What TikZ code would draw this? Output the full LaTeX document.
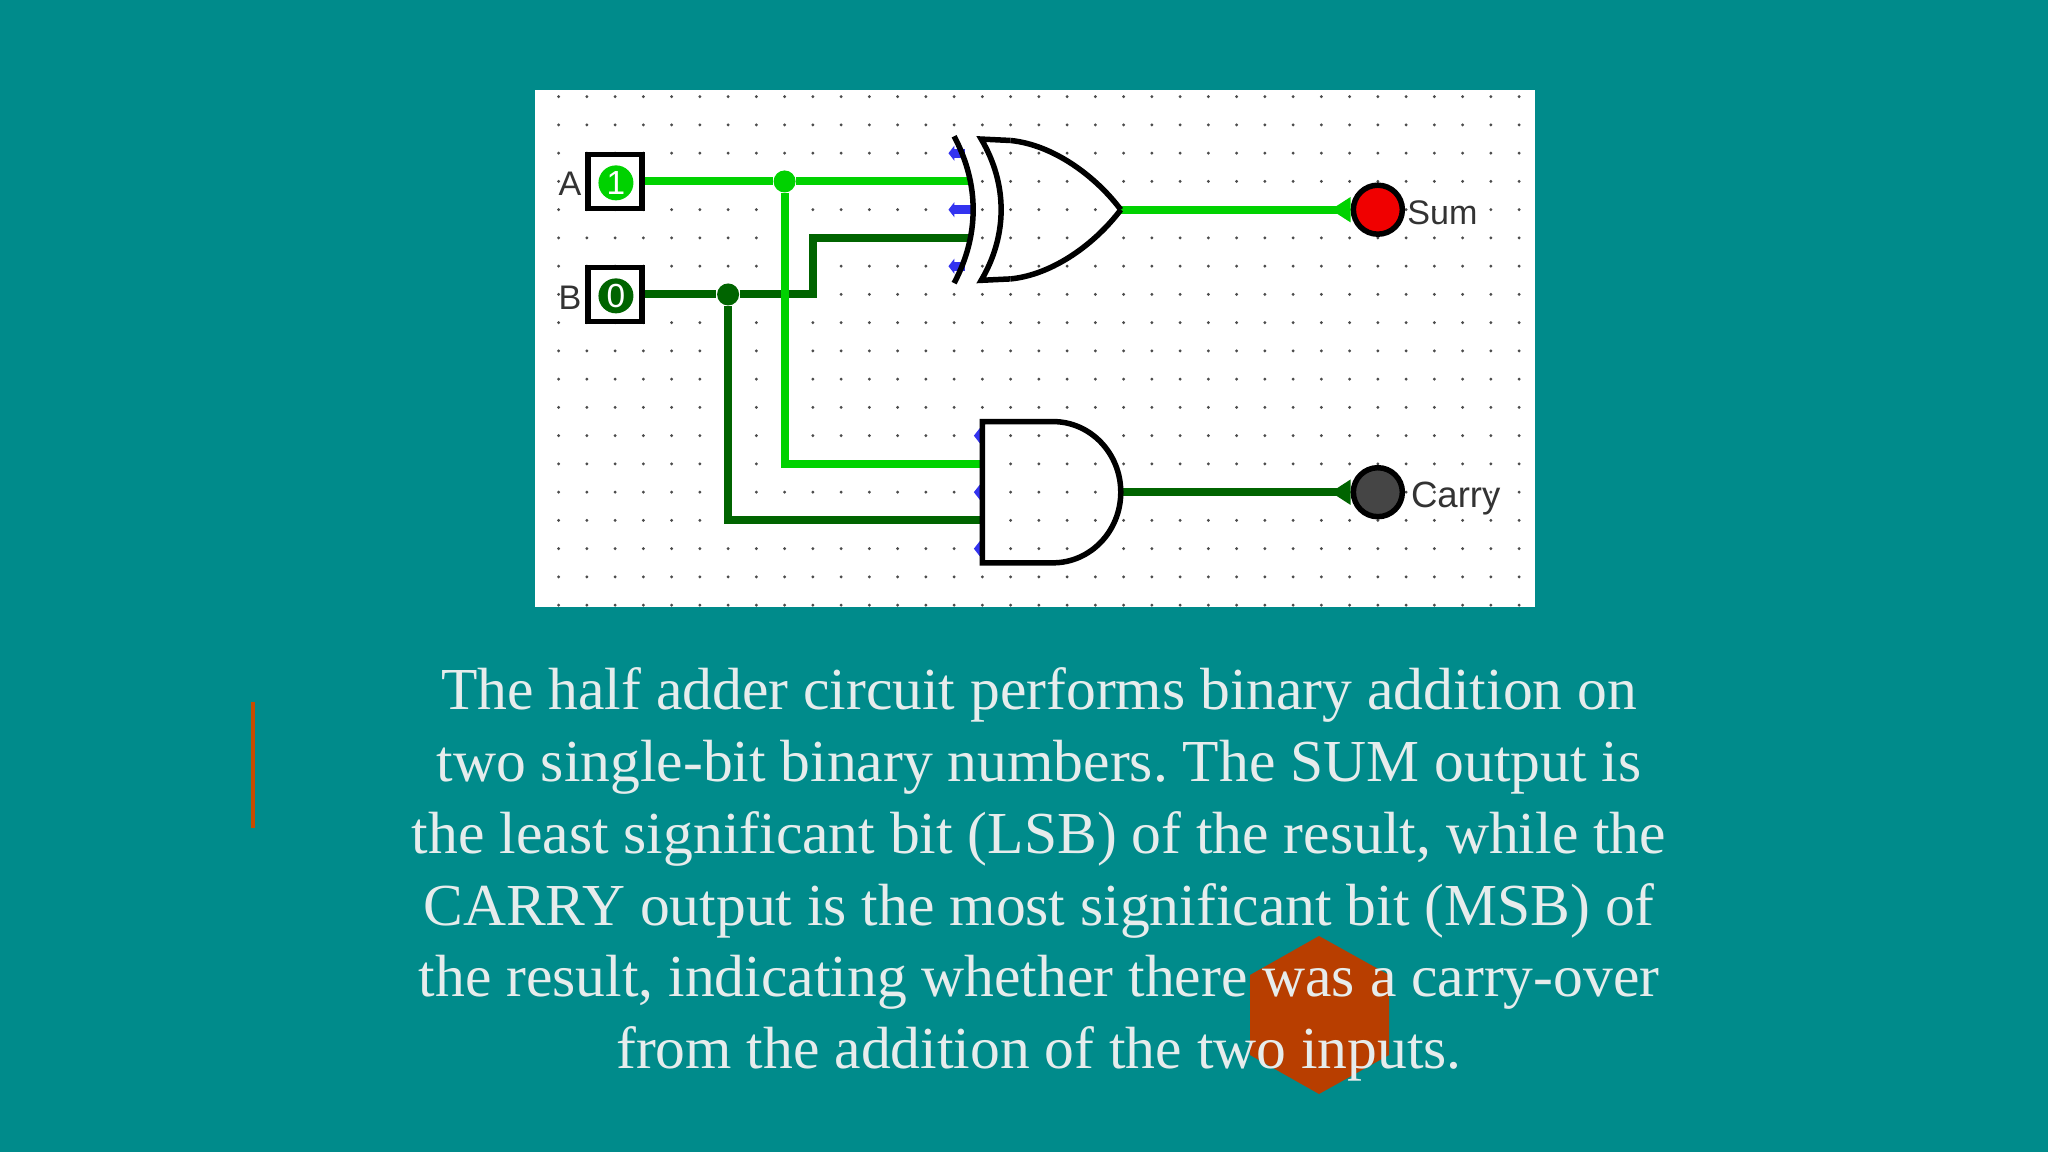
\documentclass[tikz,border=0pt]{standalone}
\usepackage{fontspec}
\setmainfont{Liberation Serif}
\newfontfamily\circuitfont{Liberation Sans}
\usetikzlibrary{arrows.meta}
\definecolor{slidebg}{HTML}{008B8B}
\definecolor{wireon}{HTML}{00D200}
\definecolor{wireoff}{HTML}{006400}
\definecolor{pinblue}{HTML}{3333F0}
\definecolor{accent}{HTML}{B83E00}
\definecolor{bodytext}{HTML}{E6ECEC}
\tikzset{
	griddot/.style={fill=black!70},
	gate/.style={draw=black,line width=.055cm,line join=miter},
	pinmark/.style={draw=pinblue,line width=.09cm,{Triangle[length=.06cm,width=.15cm]}-},
	wire/.style={line width=.08cm,line join=miter},
	pinbox/.style={draw=black,fill=white,line width=.055cm,minimum size=.54cm,inner sep=0pt},
	pinvalue/.style={circle,minimum size=.35cm,inner sep=0pt,text=white,font=\circuitfont\fontsize{9.5}{10}\selectfont},
	junction/.style={circle,minimum size=.22cm,inner sep=0pt},
	led/.style={circle,draw=black,line width=.055cm,minimum size=.49cm,inner sep=0pt},
	wirelabel/.style={inner sep=0pt,text=black!80,font=\circuitfont\fontsize{9.7}{11}\selectfont},
}
\begin{document}
\begin{tikzpicture}[x=1cm,y=-1cm]

	\useasboundingbox (0,0) rectangle (20.48,11.52);
	\fill[slidebg] (0,0) rectangle (20.48,11.52);
	\fill[white] (5.35,.9) rectangle (15.35,6.07);

	\begin{scope}[shift={(5.586,.967)},x=.2825cm,y=-.2825cm]

		\foreach \i in {0,...,34}
			\foreach \j in {0,...,18}
				\fill[griddot] (\i,\j) circle (.016cm);

		\foreach \j in {2,6}
			\draw[pinmark] (13.8,\j) -- (14.4,\j);
		\draw[pinmark] (13.8,4) -- (14.65,4);
		\foreach \j in {12,14,16}
			\draw[pinmark] (14.7,\j) -- (15.1,\j);

		\node[pinbox] (pinA) at (2,3) {};
		\node[pinbox] (pinB) at (2,7) {};
		\node[pinvalue,fill=wireon] (valueA) at (2.03,3.05) {1};
		\node[pinvalue,fill=wireoff] (valueB) at (2.03,7.05) {0};
		\node[wirelabel] (labelA) at (.4,3.08) {A};
		\node[wirelabel] (labelB) at (.4,7.12) {B};

		\node[junction,fill=wireon] (junctionA) at (8,3) {};
		\node[junction,fill=wireoff] (junctionB) at (6,7) {};

		\coordinate (xorA) at (14.6,3);
		\coordinate (xorB) at (14.6,5);
		\coordinate (xorOut) at (19.9,4);
		\coordinate (andA) at (15,13);
		\coordinate (andB) at (15,15);
		\coordinate (andOut) at (19.9,14);
		\coordinate (bendB) at (9,7);
		\coordinate (riseB) at (9,5);
		\coordinate (dropA) at (8,13);
		\coordinate (dropB) at (6,15);

		\node[led,fill=red!94!black] (ledSum) at (29,4) {};
		\node[led,fill=black!73] (ledCarry) at (29,14) {};
		\node[wirelabel,anchor=west] (labelSum) at (30.02,4.1) {Sum};
		\node[wirelabel,anchor=west,font=\circuitfont\fontsize{10.4}{11}\selectfont] (labelCarry) at (30.15,14.22) {Carry};

		\draw[wire,wireoff] (pinB.east) -- (junctionB) -- (bendB) -- (riseB) -- (xorB);
		\draw[wire,wireoff] (junctionB) -- (dropB) -- (andB);
		\draw[wire,wireon] (pinA.east) -- (junctionA) -- (xorA);
		\draw[wire,wireon] (junctionA) -- (dropA) -- (andA);
		\draw[wire,wireon,-{Triangle[reversed,length=.2cm,width=.24cm]}] (xorOut) -- (ledSum.west);
		\draw[wire,wireoff,-{Triangle[reversed,length=.2cm,width=.24cm]}] (andOut) -- (ledCarry.west);

		\draw[gate] (14,1.4) .. controls (14.9,3.1) and (14.9,4.9) .. (14,6.6);
		\draw[gate] (16,1.55) -- (14.96,1.5) .. controls (15.9,3.1) and (15.9,4.9) .. (14.96,6.5) -- (16,6.45);
		\draw[gate] (16,1.55) .. controls (17.5,1.7) and (19,2.8) .. (xorOut);
		\draw[gate] (16,6.45) .. controls (17.5,6.3) and (19,5.2) .. (xorOut);

		\draw[gate] (17.5,11.5) -- (15,11.5) -- (15,16.5) -- (17.5,16.5) arc[start angle=90,end angle=-90,x radius=2.4,y radius=2.5] -- cycle;

	\end{scope}

	\fill[accent] (13.19,9.36) -- (13.89,9.75) -- (13.89,10.55) -- (13.19,10.94) -- (12.5,10.55) -- (12.5,9.75) -- cycle;
	\draw[accent!80!orange,line width=.035cm] (2.53,7.02) -- (2.53,8.28);

	\node[align=center,inner sep=0pt,text=bodytext,font=\frenchspacing\fontsize{16.95}{20.43}\selectfont] (bodyText) at (10.39,8.745) {The half adder circuit performs binary addition on\\
		two single-bit binary numbers. The SUM output is\\
		the least significant bit (LSB) of the result, while the\\
		CARRY output is the most significant bit (MSB) of\\
		the result, indicating whether there was a carry-over\\
		from the addition of the two inputs.};

\end{tikzpicture}
\end{document}
